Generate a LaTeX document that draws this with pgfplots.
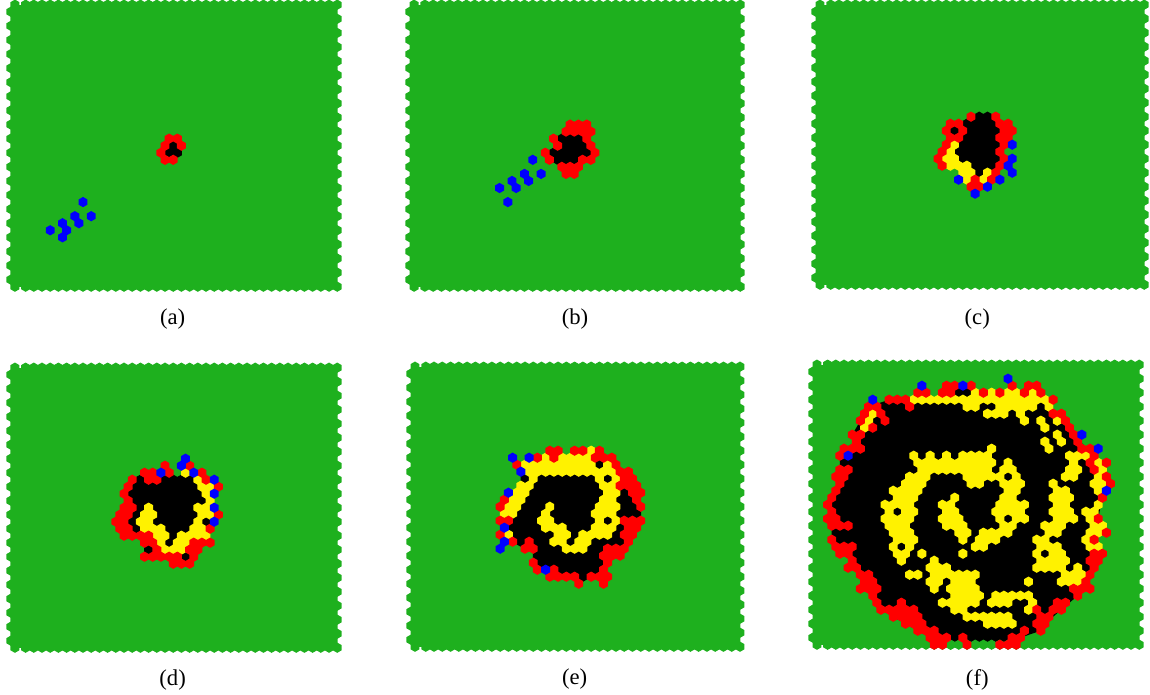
\documentclass[border=0pt]{standalone}
\usepackage{fontspec}
\setmainfont{Liberation Serif}
\usepackage{pgfplots}
\usepackage{pgfplotstable}
\pgfplotsset{compat=1.18}

\definecolor{hexgreen}{RGB}{30,176,30}

% pointy top hexagon
\pgfdeclareplotmark{hex}{%
  \pgfpathmoveto{\pgfpoint{0pt}{\pgfplotmarksize}}%
  \pgfpathlineto{\pgfpoint{0.866\pgfplotmarksize}{0.5\pgfplotmarksize}}%
  \pgfpathlineto{\pgfpoint{0.866\pgfplotmarksize}{-0.5\pgfplotmarksize}}%
  \pgfpathlineto{\pgfpoint{0pt}{-\pgfplotmarksize}}%
  \pgfpathlineto{\pgfpoint{-0.866\pgfplotmarksize}{-0.5\pgfplotmarksize}}%
  \pgfpathlineto{\pgfpoint{-0.866\pgfplotmarksize}{0.5\pgfplotmarksize}}%
  \pgfpathclose
  \pgfusepathqfill}

\pgfplotsset{
  panel/.style={
    scale only axis,
    anchor=north west,
    xmin=-0.5, xmax=40,
    ymin=-0.67, ymax=40.67,
    y dir=reverse,
    clip=false,
    ticks=none,
    axis line style={draw=none},
    xlabel style={at={(axis description cs:0.5,-0.086)},anchor=center,font=\fontsize{17}{19}\selectfont},
  },
  cell/.style={only marks, mark=hex, mark size=3.85pt, color=#1},
}

% cells along the rim of the lattice
\pgfplotstableread[row sep=\\]{
x y\\
0.2 0\\ 1.5 0\\ 2.5 0\\ 3.5 0\\ 4.5 0\\ 5.5 0\\ 6.5 0\\ 7.5 0\\ 8.5 0\\ 9.5 0\\
10.5 0\\ 11.5 0\\ 12.5 0\\ 13.5 0\\ 14.5 0\\ 15.5 0\\ 16.5 0\\ 17.5 0\\ 18.5 0\\ 19.5 0\\
20.5 0\\ 21.5 0\\ 22.5 0\\ 23.5 0\\ 24.5 0\\ 25.5 0\\ 26.5 0\\ 27.5 0\\ 28.5 0\\ 29.5 0\\
30.5 0\\ 31.5 0\\ 32.5 0\\ 33.5 0\\ 34.5 0\\ 35.5 0\\ 36.5 0\\ 37.5 0\\ 38.5 0\\ 39.5 0\\
0.2 40\\ 1.5 40\\ 2.5 40\\ 3.5 40\\ 4.5 40\\ 5.5 40\\ 6.5 40\\ 7.5 40\\ 8.5 40\\ 9.5 40\\
10.5 40\\ 11.5 40\\ 12.5 40\\ 13.5 40\\ 14.5 40\\ 15.5 40\\ 16.5 40\\ 17.5 40\\ 18.5 40\\ 19.5 40\\
20.5 40\\ 21.5 40\\ 22.5 40\\ 23.5 40\\ 24.5 40\\ 25.5 40\\ 26.5 40\\ 27.5 40\\ 28.5 40\\ 29.5 40\\
30.5 40\\ 31.5 40\\ 32.5 40\\ 33.5 40\\ 34.5 40\\ 35.5 40\\ 36.5 40\\ 37.5 40\\ 38.5 40\\ 39.5 40\\
-0.3 1\\ 0.2 2\\ -0.3 3\\ 0.2 4\\ -0.3 5\\ 0.2 6\\ -0.3 7\\ 0.2 8\\ -0.3 9\\ 0.2 10\\
-0.3 11\\ 0.2 12\\ -0.3 13\\ 0.2 14\\ -0.3 15\\ 0.2 16\\ -0.3 17\\ 0.2 18\\ -0.3 19\\ 0.2 20\\
-0.3 21\\ 0.2 22\\ -0.3 23\\ 0.2 24\\ -0.3 25\\ 0.2 26\\ -0.3 27\\ 0.2 28\\ -0.3 29\\ 0.2 30\\
-0.3 31\\ 0.2 32\\ -0.3 33\\ 0.2 34\\ -0.3 35\\ 0.2 36\\ -0.3 37\\ 0.2 38\\ -0.3 39\\
39 1\\ 39.5 2\\ 39 3\\ 39.5 4\\ 39 5\\ 39.5 6\\ 39 7\\ 39.5 8\\ 39 9\\ 39.5 10\\
39 11\\ 39.5 12\\ 39 13\\ 39.5 14\\ 39 15\\ 39.5 16\\ 39 17\\ 39.5 18\\ 39 19\\ 39.5 20\\
39 21\\ 39.5 22\\ 39 23\\ 39.5 24\\ 39 25\\ 39.5 26\\ 39 27\\ 39.5 28\\ 39 29\\ 39.5 30\\
39 31\\ 39.5 32\\ 39 33\\ 39.5 34\\ 39 35\\ 39.5 36\\ 39 37\\ 39.5 38\\ 39 39\\
}\rimcells

\newcommand{\lattice}{%
  \addplot[fill=hexgreen,draw=none] coordinates {(0.2,0) (39,0) (39,40) (0.2,40)} --cycle;
  \addplot[cell=hexgreen] table[x=x,y=y] {\rimcells};
}

\begin{document}
\begin{tikzpicture}
\path[use as bounding box] (0,0) rectangle (862.5pt,521.25pt);

% (a)
\begin{axis}[panel, at={(6.9pt,521.25pt)}, width=249.1pt, height=218.55pt,
    xlabel={(a)}, xlabel style={xshift=-2pt,yshift=-2pt}]
\lattice
\addplot[cell=black] coordinates {(19.5,20) (19,21) (20,21)};
\addplot[cell=red] coordinates {
  (19,19) (20,19)
  (18.5,20) (20.5,20)
  (18,21)
  (18.5,22) (19.5,22)
};
\addplot[cell=blue] coordinates {
  (8.5,28) (9.5,30) (7.5,30) (8,31) (6,31) (6.5,32) (4.5,32) (6,33)
};
\end{axis}

% (b)
\begin{axis}[panel, at={(306.2pt,521.25pt)}, width=252.1pt, height=218.55pt,
    xlabel={(b)}, xlabel style={xshift=-1pt,yshift=-2pt}]
\lattice
\addplot[cell=black] coordinates {
  (18,19) (19,19) (20,19)
  (18.5,20) (19.5,20) (20.5,20)
  (17,21) (18,21) (19,21) (20,21) (21,21)
  (17.5,22) (18.5,22) (19.5,22)
};
\addplot[cell=red] coordinates {
  (19,17) (20,17) (21,17)
  (18.5,18) (19.5,18) (20.5,18) (21.5,18)
  (17,19) (21,19)
  (17.5,20) (21.5,20)
  (16,21) (22,21)
  (16.5,22) (20.5,22) (21.5,22)
  (18,23) (19,23) (20,23)
  (18.5,24) (19.5,24)
};
\addplot[cell=blue] coordinates {
  (14.5,22) (13.5,24) (15.5,24) (14,25) (12,25) (12.5,26) (10.5,26) (11.5,28)
};
\end{axis}

% (c)
\begin{axis}[panel, at={(610.65pt,521.25pt)}, width=250.6pt, height=217.05pt,
    xlabel={(c)}, xlabel style={xshift=-3pt,yshift=-3.5pt}]
\lattice
\addplot[cell=black] coordinates {
  (19.5,16) (20.5,16)
  (18,17) (19,17) (20,17) (21,17)
  (16.5,18) (18.5,18) (19.5,18) (20.5,18) (21.5,18)
  (18,19) (19,19) (20,19) (21,19)
  (17.5,20) (18.5,20) (19.5,20) (20.5,20) (21.5,20)
  (17,21) (18,21) (19,21) (20,21) (21,21)
  (17.5,22) (18.5,22) (19.5,22) (20.5,22) (21.5,22)
  (19,23) (20,23) (21,23)
  (19.5,24)
};
\addplot[cell=yellow] coordinates {
  (16.5,20)
  (16,21)
  (15.5,22) (16.5,22)
  (16,23) (17,23) (18,23)
  (17.5,24) (18.5,24) (20.5,24)
  (18,25) (20,25)
};
\addplot[cell=red] coordinates {
  (18.5,16) (21.5,16)
  (16,17) (17,17) (22,17) (23,17)
  (15.5,18) (17.5,18) (22.5,18) (23.5,18)
  (16,19) (17,19) (22,19) (23,19)
  (15.5,20) (22.5,20)
  (15,21) (22,21)
  (14.5,22) (22.5,22)
  (15,23) (22,23)
  (21.5,24)
  (19,25) (21,25)
  (18.5,26) (19.5,26)
};
\addplot[cell=blue] coordinates {
  (23.5,20) (23.5,22) (23,23) (23.5,24) (17,25) (22,25) (20.5,26) (19,27)
};
\end{axis}

% (d)
\begin{axis}[panel, at={(6.9pt,249pt)}, width=249.1pt, height=217.05pt,
    xlabel={(d)}, xlabel style={xshift=-2pt,yshift=-2pt}]
\lattice
\addplot[cell=black] coordinates {
  (15.5,16) (18.5,16) (19.5,16) (20.5,16) (21.5,16)
  (15,17) (16,17) (17,17) (18,17) (19,17) (20,17) (21,17) (22,17)
  (14.5,18) (15.5,18) (16.5,18) (17.5,18) (18.5,18) (19.5,18) (20.5,18) (21.5,18) (22.5,18)
  (15,19) (16,19) (17,19) (18,19) (19,19) (20,19) (21,19) (22,19) (23,19)
  (15.5,20) (17.5,20) (18.5,20) (19.5,20) (20.5,20) (21.5,20)
  (15,21) (18,21) (19,21) (20,21) (21,21) (22,21)
  (14.5,22) (17.5,22) (18.5,22) (19.5,22) (20.5,22) (21.5,22) (23.5,22)
  (15,23) (19,23) (20,23) (21,23)
  (19.5,24)
  (19,25)
  (16.5,26)
  (21,27)
};
\addplot[cell=yellow] coordinates {
  (21,15)
  (22.5,16)
  (23,17) (24,17)
  (23.5,18)
  (24,19)
  (16.5,20) (22.5,20) (23.5,20)
  (16,21) (17,21) (23,21) (24,21)
  (15.5,22) (16.5,22) (22.5,22)
  (16,23) (17,23) (18,23) (22,23) (23,23)
  (17.5,24) (18.5,24) (20.5,24) (21.5,24) (22.5,24) (23.5,24)
  (18,25) (20,25) (21,25)
  (18.5,26) (19.5,26) (20.5,26)
};
\addplot[cell=red] coordinates {
  (18.5,14) (21.5,14)
  (16,15) (17,15) (19,15) (23,15)
  (14.5,16) (16.5,16) (17.5,16) (23.5,16)
  (14,17) (25,17)
  (13.5,18)
  (14,19)
  (13.5,20) (14.5,20)
  (13,21) (14,21) (25,21)
  (12.5,22) (13.5,22)
  (13,23) (14,23) (24,23)
  (13.5,24) (14.5,24) (15.5,24) (16.5,24)
  (16,25) (17,25) (22,25) (23,25) (24,25)
  (17.5,26) (21.5,26) (22.5,26)
  (16,27) (17,27) (18,27) (19,27) (20,27) (22,27)
  (19.5,28) (20.5,28) (21.5,28)
};
\addplot[cell=blue] coordinates {
  (21,13) (20.5,14) (18,15) (22,15) (24.5,16) (24.5,18) (24.5,20) (24.5,22)
};
\end{axis}

% (e)
\begin{axis}[panel, at={(306.9pt,249.75pt)}, width=251.2pt, height=217.05pt,
    xlabel={(e)}, xlabel style={xshift=-1.5pt,yshift=-2pt}]
\lattice
\addplot[cell=black] coordinates {
  (22.5,14)
  (13.5,16) (15.5,16) (16.5,16) (17.5,16) (18.5,16) (19.5,16) (20.5,16) (21.5,16) (23.5,16)
  (15,17) (16,17) (17,17) (18,17) (19,17) (20,17) (21,17) (22,17)
  (14.5,18) (15.5,18) (16.5,18) (17.5,18) (18.5,18) (19.5,18) (20.5,18) (21.5,18) (22.5,18) (25.5,18)
  (14,19) (15,19) (16,19) (17,19) (18,19) (19,19) (20,19) (21,19) (22,19) (25,19) (26,19)
  (13.5,20) (14.5,20) (15.5,20) (17.5,20) (18.5,20) (19.5,20) (20.5,20) (21.5,20) (25.5,20) (26.5,20)
  (13,21) (14,21) (15,21) (17,21) (18,21) (19,21) (20,21) (21,21) (25,21) (26,21) (27,21)
  (12.5,22) (13.5,22) (14.5,22) (17.5,22) (18.5,22) (19.5,22) (20.5,22) (21.5,22) (23.5,22)
  (12,23) (13,23) (14,23) (15,23) (19,23) (20,23) (21,23) (25,23)
  (12.5,24) (13.5,24) (14.5,24) (15.5,24) (16.5,24) (19.5,24) (24.5,24)
  (13,25) (15,25) (16,25) (19,25) (22,25) (23,25) (24,25) (25,25)
  (15.5,26) (16.5,26) (17.5,26) (21.5,26) (22.5,26)
  (15,27) (16,27) (17,27) (18,27) (19,27) (20,27) (21,27) (22,27)
  (15.5,28) (16.5,28) (17.5,28) (18.5,28) (19.5,28) (20.5,28) (21.5,28) (22.5,28)
  (18,29) (19,29) (20,29) (21,29) (22,29)
  (20.5,30)
};
\addplot[cell=yellow] coordinates {
  (21.5,12)
  (16,13) (18,13) (19,13) (20,13) (21,13)
  (13.5,14) (14.5,14) (15.5,14) (16.5,14) (17.5,14) (18.5,14) (19.5,14) (20.5,14) (21.5,14) (23.5,14)
  (14,15) (15,15) (16,15) (17,15) (18,15) (19,15) (20,15) (21,15) (22,15) (23,15) (24,15)
  (14.5,16) (22.5,16) (24.5,16)
  (13,17) (14,17) (23,17) (24,17)
  (12.5,18) (13.5,18) (23.5,18) (24.5,18)
  (12,19) (13,19) (23,19) (24,19)
  (11.5,20) (12.5,20) (16.5,20) (22.5,20) (23.5,20) (24.5,20)
  (11,21) (12,21) (16,21) (22,21) (23,21) (24,21)
  (15.5,22) (16.5,22) (22.5,22) (24.5,22)
  (16,23) (17,23) (18,23) (22,23) (23,23) (24,23)
  (11.5,24) (17.5,24) (18.5,24) (20.5,24) (21.5,24) (22.5,24) (23.5,24)
  (17,25) (18,25) (20,25) (21,25)
  (18.5,26) (19.5,26) (20.5,26)
};
\addplot[cell=red] coordinates {
  (16.5,12) (17.5,12) (19.5,12) (20.5,12) (22.5,12)
  (15,13) (17,13) (22,13) (23,13) (24,13)
  (12.5,14) (24.5,14)
  (25,15) (26,15)
  (25.5,16) (26.5,16)
  (25,17) (26,17) (27,17)
  (26.5,18) (27.5,18)
  (11,19) (27,19)
  (10.5,20) (27.5,20)
  (10.5,22) (11.5,22) (25.5,22) (26.5,22) (27.5,22)
  (26,23) (27,23)
  (10.5,24) (25.5,24) (26.5,24)
  (12,25) (14,25) (26,25)
  (13.5,26) (14.5,26) (23.5,26) (24.5,26) (25.5,26)
  (23,27) (24,27) (25,27)
  (14.5,28) (23.5,28)
  (15,29) (17,29) (23,29)
  (16.5,30) (17.5,30) (18.5,30) (19.5,30) (21.5,30) (22.5,30) (23.5,30)
  (20,31) (23,31)
};
\addplot[cell=blue] coordinates {
  (12,13) (14,13) (13,15) (11.5,18) (11,23) (11,25) (10.5,26) (16,29)
};
\end{axis}

% (f)
\begin{axis}[panel, at={(608.4pt,251.25pt)}, width=249.1pt, height=217.05pt,
    xlabel={(f)}, xlabel style={yshift=-4pt}]
\lattice
\addplot[fill=black,draw=none] coordinates {
  (9,5) (29,5) (29,7) (34,13) (34,15) (35,19) (34.5,22) (34,25) (34.5,28)
  (33,31) (32,33) (30,35) (28,37) (27.5,38) (25,39) (24.5,40.2)
  (14.5,40.2) (14,39) (12.5,38) (11,37) (9.5,36) (8,35) (7,33) (6,31) (5,29)
  (4.5,28) (3.5,27) (2,25) (2,23) (1.5,20.5) (2.5,18) (3,15) (3,13) (3.5,12) (5,11) (4.5,10)
  (5.5,8) (6.5,6)
} --cycle;
\addplot[cell=black] coordinates {(17.5,4) (18.5,4)};
\addplot[cell=hexgreen] coordinates {(16.5,40)};
\addplot[cell=yellow] coordinates {
  (19.5,4) (21.5,4) (23.5,4) (24.5,4) (26.5,4)
  (12,5) (13,5) (14,5) (15,5) (16,5) (17,5) (18,5) (19,5) (20,5) (21,5) (22,5) (23,5) (24,5) (25,5) (26,5) (27,5) (28,5)
  (18.5,6) (19.5,6) (22.5,6) (23.5,6) (24.5,6) (25.5,6) (26.5,6) (28.5,6)
  (7,7) (21,7) (22,7) (23,7) (25,7)
  (6.5,8) (25.5,8) (27.5,8) (29.5,8)
  (6,9) (28,9)
  (29.5,10)
  (28,11) (30,11)
  (21.5,12) (28.5,12)
  (12,13) (14,13) (16,13) (18,13) (19,13) (20,13) (21,13) (31,13) (32,13) (33,13)
  (12.5,14) (13.5,14) (14.5,14) (15.5,14) (16.5,14) (17.5,14) (18.5,14) (19.5,14) (20.5,14) (21.5,14) (23.5,14) (31.5,14) (34.5,14)
  (13,15) (14,15) (15,15) (16,15) (17,15) (18,15) (19,15) (20,15) (21,15) (23,15) (24,15) (31,15) (32,15) (35,15)
  (11.5,16) (12.5,16) (13.5,16) (18.5,16) (19.5,16) (20.5,16) (21.5,16) (22.5,16) (24.5,16) (30.5,16) (31.5,16) (34.5,16)
  (11,17) (12,17) (13,17) (19,17) (20,17) (23,17) (24,17) (25,17) (29,17) (34,17) (35,17)
  (9.5,18) (10.5,18) (11.5,18) (12.5,18) (23.5,18) (24.5,18) (29.5,18) (30.5,18) (34.5,18)
  (10,19) (11,19) (12,19) (17,19) (23,19) (24,19) (29,19) (30,19) (31,19)
  (8.5,20) (9.5,20) (10.5,20) (11.5,20) (15.5,20) (16.5,20) (22.5,20) (23.5,20) (24.5,20) (25.5,20) (29.5,20) (30.5,20) (34.5,20)
  (9,21) (11,21) (12,21) (16,21) (17,21) (22,21) (23,21) (24,21) (25,21) (29,21) (30,21) (31,21) (33,21) (34,21)
  (8.5,22) (9.5,22) (10.5,22) (11.5,22) (15.5,22) (16.5,22) (17.5,22) (22.5,22) (24.5,22) (25.5,22) (29.5,22) (30.5,22) (31.5,22) (33.5,22)
  (9,23) (10,23) (11,23) (16,23) (17,23) (18,23) (23,23) (24,23) (28,23) (29,23) (30,23) (34,23) (35,23)
  (9.5,24) (10.5,24) (11.5,24) (17.5,24) (18.5,24) (20.5,24) (21.5,24) (22.5,24) (23.5,24) (28.5,24) (29.5,24) (33.5,24) (34.5,24)
  (10,25) (11,25) (12,25) (18,25) (20,25) (21,25) (22,25) (27,25) (28,25) (33,25)
  (9.5,26) (11.5,26) (19.5,26) (20.5,26) (27.5,26) (28.5,26) (29.5,26) (33.5,26) (34.5,26)
  (10,27) (11,27) (13,27) (18,27) (27,27) (29,27) (30,27)
  (10.5,28) (14.5,28) (27.5,28) (28.5,28) (29.5,28) (30.5,28)
  (14,29) (15,29) (16,29) (27,29) (28,29) (29,29) (30,29) (32,29)
  (11.5,30) (12.5,30) (14.5,30) (15.5,30) (16.5,30) (17.5,30) (18.5,30) (19.5,30) (30.5,30) (31.5,30) (32.5,30)
  (14,31) (15,31) (17,31) (18,31) (19,31) (26,31) (30,31) (31,31) (32,31)
  (14.5,32) (16.5,32) (17.5,32) (18.5,32) (19.5,32)
  (17,33) (18,33) (19,33) (20,33) (22,33) (23,33) (24,33) (25,33) (26,33)
  (15.5,34) (16.5,34) (17.5,34) (18.5,34) (19.5,34) (21.5,34) (22.5,34) (23.5,34) (26.5,34)
  (17,35) (18,35) (26,35)
  (18.5,36) (19.5,36) (20.5,36) (21.5,36) (22.5,36) (23.5,36)
  (21,37) (22,37) (23,37) (24,37)
};
\addplot[cell=red] coordinates {
  (16,3) (17,3) (19,3) (24,3) (26,3) (27,3)
  (12.5,4) (13.5,4) (15.5,4) (16.5,4) (20.5,4) (22.5,4) (25.5,4) (27.5,4)
  (9,5) (10,5) (11,5) (29,5)
  (6.5,6) (7.5,6) (11.5,6)
  (6,7) (8,7) (29,7) (30,7)
  (5.5,8) (8.5,8) (30.5,8)
  (7,9) (31,9)
  (4.5,10) (5.5,10) (31.5,10)
  (5,11) (32,11)
  (3.5,12) (4.5,12) (5.5,12) (32.5,12) (33.5,12)
  (3,13) (34,13)
  (33.5,14) (35.5,14)
  (3,15) (4,15) (34,15)
  (2.5,16) (3.5,16) (35.5,16)
  (3,17) (36,17)
  (2.5,18)
  (2,19) (35,19)
  (1.5,20)
  (2,21)
  (1.5,22) (2.5,22) (34.5,22)
  (2,23) (3,23) (4,23)
  (35.5,24)
  (2,25) (34,25)
  (2.5,26) (3.5,26) (4.5,26)
  (3,27) (4,27) (34,27) (35,27)
  (4.5,28) (33.5,28) (34.5,28)
  (4,29) (5,29) (34,29)
  (5.5,30) (6.5,30) (33.5,30)
  (6,31) (7,31) (33,31)
  (5.5,32) (6.5,32) (7.5,32) (31.5,32) (32.5,32) (33.5,32)
  (7,33) (32,33)
  (7.5,34) (10.5,34) (29.5,34) (30.5,34)
  (8,35) (9,35) (10,35) (11,35) (12,35) (27,35) (29,35) (30,35)
  (9.5,36) (10.5,36) (11.5,36) (12.5,36) (27.5,36) (28.5,36)
  (11,37) (12,37) (13,37) (27,37) (28,37)
  (12.5,38) (13.5,38) (14.5,38) (25.5,38) (27.5,38)
  (14,39) (15,39) (16,39) (18,39) (24,39) (25,39)
  (14.5,40) (15.5,40) (18.5,40) (22.5,40) (23.5,40) (24.5,40)
};
\addplot[cell=blue] coordinates {
  (23.5,2) (13,3) (18,3) (7,5) (32.5,10) (34.5,12) (4,13) (35.5,18)
};
\end{axis}
\end{tikzpicture}
\end{document}
